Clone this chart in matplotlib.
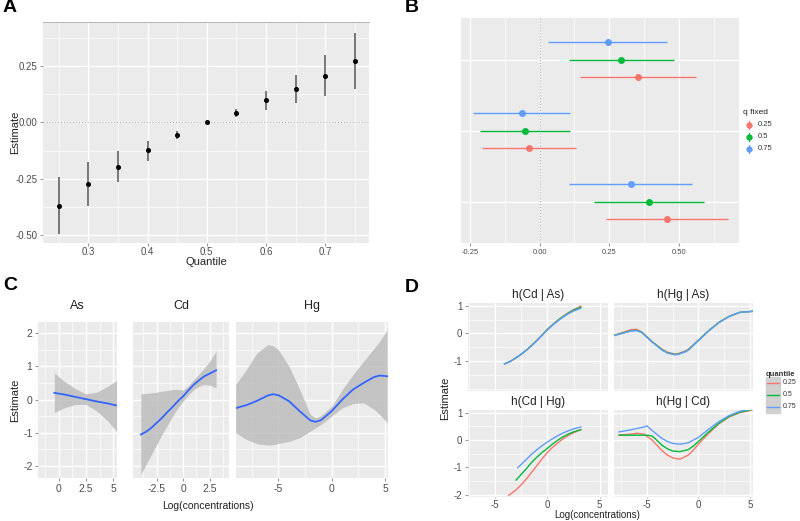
import matplotlib
matplotlib.use("Agg")
import matplotlib.pyplot as plt
from matplotlib.patches import Rectangle

plt.rcParams['font.family'] = ['Liberation Sans', 'DejaVu Sans']
plt.rcParams['axes.unicode_minus'] = False

W, H = 800, 521
RED, GREEN, BLUE = '#F8766D', '#00BA38', '#619CFF'
BG = '#EBEBEB'
TXT = '#4D4D4D'

# ---- panel A data
quantiles = [0.25, 0.30, 0.35, 0.40, 0.45, 0.50, 0.55, 0.60, 0.65, 0.70, 0.75]
a_est = [-0.371, -0.274, -0.197, -0.124, -0.056, 0.0, 0.041, 0.098, 0.148, 0.207, 0.271]
a_lo = [-0.497, -0.370, -0.266, -0.172, -0.075, -0.003, 0.025, 0.056, 0.084, 0.115, 0.148]
a_hi = [-0.244, -0.178, -0.127, -0.081, -0.037, 0.003, 0.058, 0.139, 0.210, 0.299, 0.395]

# ---- panel B data (groups bottom, middle, top)
b_groups = [1, 2, 3]
b_levels = ['0.25', '0.5', '0.75']
b_est_25 = [0.459, -0.037, 0.352]
b_lo_25 = [0.239, -0.208, 0.144]
b_hi_25 = [0.677, 0.132, 0.561]
b_est_50 = [0.394, -0.053, 0.294]
b_lo_50 = [0.197, -0.213, 0.106]
b_hi_50 = [0.590, 0.108, 0.481]
b_est_75 = [0.328, -0.063, 0.244]
b_lo_75 = [0.105, -0.240, 0.031]
b_hi_75 = [0.548, 0.111, 0.457]

# ---- panel C data
as_x = [-0.4, 0.5, 1.5, 2.5, 3.5, 4.5, 5.3]
as_y = [0.20, 0.15, 0.08, 0.01, -0.06, -0.12, -0.18]
as_up = [0.80, 0.55, 0.33, 0.17, 0.22, 0.40, 0.57]
as_lo = [-0.39, -0.25, -0.15, -0.15, -0.35, -0.65, -0.96]

cd_x = [-4.0, -3.5, -3.0, -2.5, -2.0, -1.5, -1.0, -0.5, 0.0, 0.5, 1.0, 1.5, 2.0, 2.5, 3.1]
cd_y = [-1.05, -0.97, -0.85, -0.70, -0.55, -0.38, -0.22, -0.05, 0.10, 0.28, 0.45, 0.58, 0.70, 0.78, 0.88]
cd_up = [0.17, 0.18, 0.20, 0.22, 0.25, 0.27, 0.30, 0.30, 0.28, 0.42, 0.60, 0.77, 0.95, 1.15, 1.45]
cd_lo = [-2.25, -1.95, -1.65, -1.35, -1.05, -0.78, -0.50, -0.25, -0.05, 0.14, 0.30, 0.40, 0.45, 0.43, 0.35]

hg_x = [-9.0, -8.0, -7.0, -6.0, -5.5, -5.0, -4.0, -3.0, -2.0, -1.5, -1.0, 0.0, 1.0, 2.0, 3.0, 4.0, 4.5, 5.2]
hg_y = [-0.26, -0.17, -0.04, 0.12, 0.16, 0.13, -0.05, -0.35, -0.63, -0.67, -0.62, -0.35, 0.00, 0.30, 0.50, 0.68, 0.72, 0.70]
hg_up = [0.45, 0.90, 1.40, 1.65, 1.62, 1.50, 1.00, 0.30, -0.45, -0.55, -0.48, -0.20, 0.30, 0.75, 1.15, 1.55, 1.75, 2.10]
hg_lo = [-1.00, -1.20, -1.33, -1.37, -1.36, -1.32, -1.26, -1.15, -0.95, -0.85, -0.75, -0.50, -0.25, -0.12, -0.10, -0.30, -0.45, -0.70]

# ---- panel D data
d_cdas_x = [-4.1, -3.5, -3.0, -2.5, -2.0, -1.5, -1.0, -0.5, 0.0, 0.5, 1.0, 1.5, 2.0, 2.5, 3.2]
d_cdas_25 = [-1.10, -1.00, -0.88, -0.75, -0.60, -0.43, -0.25, -0.05, 0.15, 0.32, 0.48, 0.62, 0.75, 0.86, 0.98]
d_cdas_50 = [-1.10, -1.00, -0.88, -0.75, -0.60, -0.43, -0.25, -0.06, 0.14, 0.31, 0.47, 0.61, 0.73, 0.84, 0.95]
d_cdas_75 = [-1.10, -1.00, -0.88, -0.75, -0.60, -0.44, -0.26, -0.07, 0.13, 0.30, 0.45, 0.59, 0.71, 0.81, 0.91]

d_hgas_x = [-8.3, -7.5, -6.5, -6.0, -5.5, -4.5, -3.5, -3.0, -2.3, -2.0, -1.3, -1.0, 0.0, 1.0, 2.0, 3.0, 4.0, 5.3]
d_hgas_25 = [-0.08, 0.02, 0.14, 0.15, 0.05, -0.30, -0.58, -0.68, -0.74, -0.73, -0.64, -0.58, -0.24, 0.10, 0.40, 0.62, 0.76, 0.80]
d_hgas_50 = [-0.08, 0.00, 0.10, 0.11, 0.04, -0.30, -0.60, -0.70, -0.76, -0.75, -0.66, -0.60, -0.25, 0.10, 0.40, 0.62, 0.76, 0.80]
d_hgas_75 = [-0.09, -0.01, 0.09, 0.10, 0.03, -0.31, -0.61, -0.71, -0.77, -0.76, -0.67, -0.61, -0.26, 0.09, 0.40, 0.62, 0.76, 0.80]

d_cdhg_x25 = [-3.7, -3.0, -2.5, -2.0, -1.5, -1.0, -0.5, 0.0, 0.5, 1.0, 1.5, 2.0, 2.5, 3.2]
d_cdhg_25 = [-2.02, -1.82, -1.63, -1.42, -1.17, -0.93, -0.68, -0.45, -0.26, -0.10, 0.05, 0.17, 0.27, 0.38]
d_cdhg_x50 = [-3.0, -2.5, -2.0, -1.5, -1.0, -0.5, 0.0, 0.5, 1.0, 1.5, 2.0, 2.5, 3.2]
d_cdhg_50 = [-1.46, -1.25, -1.04, -0.81, -0.62, -0.45, -0.30, -0.14, 0.00, 0.12, 0.22, 0.30, 0.38]
d_cdhg_x75 = [-2.85, -2.5, -2.0, -1.5, -1.0, -0.5, 0.0, 0.5, 1.0, 1.5, 2.0, 2.5, 3.2]
d_cdhg_75 = [-1.01, -0.89, -0.70, -0.51, -0.35, -0.20, -0.07, 0.05, 0.16, 0.26, 0.34, 0.41, 0.48]

d_hgcd_x = [-7.7, -6.5, -6.0, -5.3, -5.0, -4.5, -4.0, -3.5, -3.0, -2.5, -1.8, -1.0, -0.5, 0.0, 1.0, 2.0, 3.0, 4.0, 5.2]
d_hgcd_25 = [0.18, 0.22, 0.25, 0.22, 0.14, 0.00, -0.20, -0.40, -0.55, -0.65, -0.70, -0.55, -0.37, -0.15, 0.25, 0.60, 0.85, 1.00, 1.10]
d_hgcd_50 = [0.18, 0.18, 0.18, 0.18, 0.18, 0.15, -0.02, -0.20, -0.32, -0.40, -0.42, -0.35, -0.22, -0.05, 0.30, 0.62, 0.87, 1.02, 1.12]
d_hgcd_75 = [0.30, 0.38, 0.42, 0.48, 0.52, 0.35, 0.20, 0.05, -0.05, -0.12, -0.15, -0.10, 0.00, 0.10, 0.40, 0.68, 0.90, 1.05, 1.15]

fig = plt.figure(figsize=(W / 100, H / 100), dpi=100)


def add_ax(x0, y0, x1, y1):
    return fig.add_axes([x0 / W, 1 - y1 / H, (x1 - x0) / W, (y1 - y0) / H])


def gg(ax, size=7):
    ax.set_facecolor(BG)
    for s in ax.spines.values():
        s.set_visible(False)
    ax.grid(which='major', color='white', lw=1.0)
    ax.grid(which='minor', color='white', lw=0.5)
    ax.set_axisbelow(True)
    ax.tick_params(which='major', length=2, color='#999999', labelsize=size, labelcolor=TXT, pad=2)
    ax.tick_params(which='minor', length=0)


def ftext(x, y, s, **kw):
    fig.text(x / W, 1 - y / H, s, **kw)


# ================= A
axA = add_ax(43, 22, 369, 243)
gg(axA)
axA.set_xlim(0.2234, 0.774)
axA.set_ylim(-0.536, 0.446)
axA.set_xticks([0.3, 0.4, 0.5, 0.6, 0.7])
axA.set_xticks([0.25, 0.35, 0.45, 0.55, 0.65, 0.75], minor=True)
axA.set_yticks([-0.5, -0.25, 0.0, 0.25])
axA.set_yticklabels(['-0.50', '-0.25', '0.00', '0.25'])
axA.set_yticks([-0.375, -0.125, 0.125, 0.375], minor=True)
axA.tick_params(axis='x', pad=1)
axA.axhline(0, color='#AAAAAA', lw=0.8, ls=':')
axA.vlines(quantiles, a_lo, a_hi, color='#555555', lw=1.1)
axA.plot(quantiles, a_est, 'o', color='black', ms=2.6)
axA.spines['top'].set_visible(True)
axA.spines['top'].set_color('#BBBBBB')
ftext(15, 132, 'Estimate', rotation=90, ha='center', va='center', fontsize=8, color='#222222')
ftext(206, 262, 'Quantile', ha='center', va='center', fontsize=8, color='#222222')

# ================= B
axB = add_ax(461, 18, 739, 243)
gg(axB)
axB.set_xlim(-0.282, 0.716)
axB.set_ylim(0.42, 3.59)
axB.set_xticks([-0.25, 0.0, 0.25, 0.5])
axB.set_xticklabels(['-0.25', '0.00', '0.25', '0.50'])
axB.set_xticks([-0.125, 0.125, 0.375, 0.625], minor=True)
axB.set_yticks(b_groups)
axB.set_yticklabels([])
axB.tick_params(axis='y', length=0)
axB.tick_params(axis='x', labelsize=5.5)
axB.axvline(0, color='#AAAAAA', lw=0.8, ls=':')
dodge = 0.245
series_b = [(b_est_25, b_lo_25, b_hi_25, RED, -dodge),
            (b_est_50, b_lo_50, b_hi_50, GREEN, 0.0),
            (b_est_75, b_lo_75, b_hi_75, BLUE, dodge)]
for est, lo, hi, col, off in series_b:
    ys = [g + off for g in b_groups]
    axB.hlines(ys, lo, hi, color=col, lw=1.0)
    axB.plot(est, ys, 'o', color=col, ms=4)
ftext(743, 112, 'q fixed', ha='left', va='center', fontsize=6, color='#222222')
for i, (lab, col) in enumerate(zip(b_levels, [RED, GREEN, BLUE])):
    yy = 125 + 12 * i
    fig.lines.append(plt.Line2D([749 / W, 749 / W], [1 - (yy - 4) / H, 1 - (yy + 4) / H],
                                color=col, lw=0.8, transform=fig.transFigure))
    fig.lines.append(plt.Line2D([749 / W], [1 - yy / H], marker='o', ms=3.5, color=col,
                                transform=fig.transFigure))
    ftext(758, yy, lab, ha='left', va='center', fontsize=5.5, color='#333333')

# ================= C
ylimC = (-2.36, 2.33)
c_specs = [
    ((38, 322, 117, 478), (-1.9, 5.34), [0, 2.5, 5], ['0', '2.5', '5'], [-1.25, 1.25, 3.75],
     as_x, as_y, as_up, as_lo, 'As'),
    ((133, 322, 229, 478), (-4.74, 4.32), [-2.5, 0, 2.5], ['-2.5', '0', '2.5'], [-3.75, -1.25, 1.25, 3.75],
     cd_x, cd_y, cd_up, cd_lo, 'Cd'),
    ((236, 322, 388, 478), (-8.97, 5.28), [-5, 0, 5], ['-5', '0', '5'], [-7.5, -2.5, 2.5],
     hg_x, hg_y, hg_up, hg_lo, 'Hg'),
]
for k, (box, xl, xt, xtl, xm, xs, ys, up, lo, name) in enumerate(c_specs):
    ax = add_ax(*box)
    gg(ax, size=7.5)
    ax.set_xlim(*xl)
    ax.set_ylim(*ylimC)
    ax.set_xticks(xt)
    ax.set_xticklabels(xtl)
    ax.set_xticks(xm, minor=True)
    ax.set_yticks([-2, -1, 0, 1, 2])
    ax.set_yticks([-1.5, -0.5, 0.5, 1.5], minor=True)
    if k > 0:
        ax.set_yticklabels([])
        ax.tick_params(axis='y', length=0)
    ax.fill_between(xs, lo, up, color='#BDBDBD', alpha=0.85, lw=0)
    ax.plot(xs, ys, color='#3366FF', lw=1.3)
    ftext((box[0] + box[2]) / 2, 306, name, ha='center', va='center', fontsize=9, color='#222222')
ftext(15, 400, 'Estimate', rotation=90, ha='center', va='center', fontsize=8, color='#222222')
ftext(208, 506, 'Log(concentrations)', ha='center', va='center', fontsize=7.5, color='#222222')

# ================= D
ylimD = (-2.08, 1.1)
d_specs = [
    ((468, 303, 608, 391), (-7.6, 5.8), 'h(Cd | As)',
     [(d_cdas_x, d_cdas_25, RED), (d_cdas_x, d_cdas_50, GREEN), (d_cdas_x, d_cdas_75, BLUE)], False, True),
    ((614, 303, 753, 391), (-8.2, 5.3), 'h(Hg | As)',
     [(d_hgas_x, d_hgas_25, RED), (d_hgas_x, d_hgas_50, GREEN), (d_hgas_x, d_hgas_75, BLUE)], False, False),
    ((468, 410, 608, 497), (-7.6, 5.8), 'h(Cd | Hg)',
     [(d_cdhg_x25, d_cdhg_25, RED), (d_cdhg_x50, d_cdhg_50, GREEN), (d_cdhg_x75, d_cdhg_75, BLUE)], True, True),
    ((614, 410, 753, 497), (-8.2, 5.3), 'h(Hg | Cd)',
     [(d_hgcd_x, d_hgcd_25, RED), (d_hgcd_x, d_hgcd_50, GREEN), (d_hgcd_x, d_hgcd_75, BLUE)], True, False),
]
for box, xl, title, lines, bottom, left in d_specs:
    ax = add_ax(*box)
    gg(ax, size=7)
    ax.set_xlim(*xl)
    ax.set_ylim(*ylimD)
    ax.set_xticks([-5, 0, 5])
    ax.set_xticks([-7.5, -2.5, 2.5], minor=True)
    if bottom:
        ax.set_yticks([-2, -1, 0, 1])
        ax.set_yticks([-1.5, -0.5, 0.5], minor=True)
        ax.set_xticklabels(['-5', '0', '5'])
        ax.tick_params(axis='x', pad=1, length=1)
    else:
        ax.set_yticks([-1, 0, 1])
        ax.set_yticks([-2, -1.5, -0.5, 0.5], minor=True)
        ax.set_xticklabels([])
        ax.tick_params(axis='x', length=0)
    if not left:
        ax.set_yticklabels([])
        ax.tick_params(axis='y', length=0)
    for xs, ys, col in lines:
        ax.plot(xs, ys, color=col, lw=1.0)
    ftext((box[0] + box[2]) / 2, box[1] - 8, title, ha='center', va='center', fontsize=8.5, color='#222222')
ftext(445, 398, 'Estimate', rotation=90, ha='center', va='center', fontsize=8, color='#222222')
ftext(597, 515, 'Log(concentrations)', ha='center', va='center', fontsize=7, color='#222222')

ftext(766, 374, 'quantile', ha='left', va='center', fontsize=5.5, color='#333333', fontweight='bold')
for i, (lab, col) in enumerate(zip(b_levels, [RED, GREEN, BLUE])):
    yy = 383 + 12 * i
    fig.patches.append(Rectangle((766 / W, 1 - (yy + 6) / H), 14 / W, 12 / H, color='#D0D0D0',
                                 transform=fig.transFigure))
    fig.lines.append(plt.Line2D([767 / W, 779 / W], [1 - yy / H, 1 - yy / H], color=col, lw=1.0,
                                transform=fig.transFigure))
    ftext(783, yy, lab, ha='left', va='center', fontsize=5, color='#333333')

# panel letters
for lab, x, y in [('A', 3, 8), ('B', 405, 8), ('C', 3, 286), ('D', 405, 287)]:
    ftext(x, y, lab, ha='left', va='center', fontsize=14, fontweight='bold')

fig.savefig('out.png', dpi=100)
